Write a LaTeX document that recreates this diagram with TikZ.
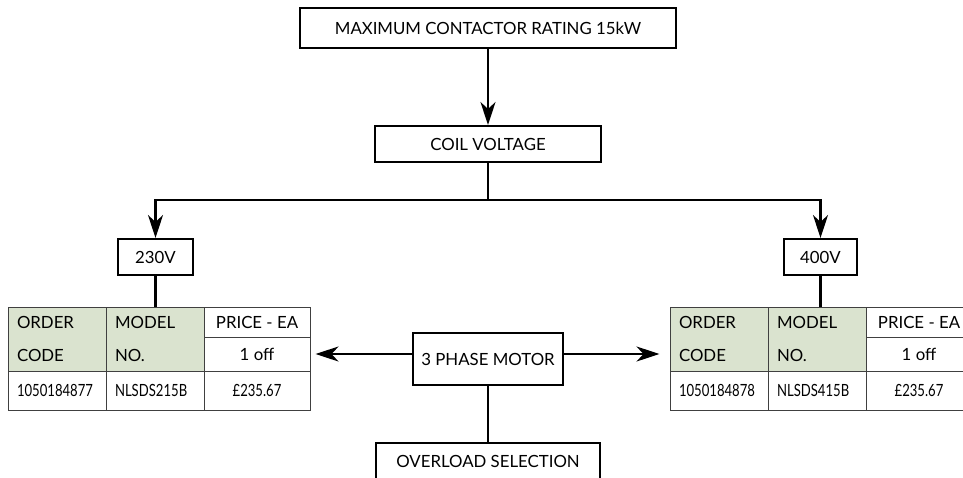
\documentclass[tikz,border=0pt]{standalone}
\usepackage{fontspec}
\setmainfont{Lato}
\usetikzlibrary{arrows.meta}
\tikzset{>={Stealth[length=23pt,width=15pt,inset=7pt]}}
\definecolor{codegreen}{RGB}{218,227,207}

\begin{document}
\begin{tikzpicture}[x=1pt,y=-1pt,
  box/.style={draw,line width=2pt,minimum height=36pt,inner sep=0pt,
    font=\fontsize{16.8}{18}\selectfont},
  cell/.style={draw=black!75,line width=1pt,inner sep=0pt,minimum width=98pt,
    font=\fontsize{16.8}{33}\selectfont},
  link/.style={line width=2.2pt}]
\useasboundingbox (0,0) rectangle (963,477);

\node[box,minimum width=376pt,minimum height=40pt] (rating) at (488,28) {MAXIMUM CONTACTOR RATING 15kW};
\node[box,minimum width=226pt] (coil) at (488,144) {COIL VOLTAGE};
\node[box,minimum width=75pt] (lowv) at (155.5,257) {230V};
\node[box,minimum width=73pt] (highv) at (820.5,257) {400V};
\node[box,minimum width=150pt,minimum height=52pt] (motor) at (488,359) {3 PHASE MOTOR};
\node[box,minimum width=224pt] (overload) at (488,461) {OVERLOAD SELECTION};

% the two order tables
\foreach \t/\x/\code/\model in {L/8/1050184877/NLSDS215B, R/670/1050184878/NLSDS415B}{
  \node[cell,fill=codegreen,minimum height=64pt,text width=80pt,align=left] (order\t) at (\x+49,339) {ORDER\\CODE};
  \node[cell,fill=codegreen,minimum height=64pt,text width=80pt,align=left] (model\t) at (\x+147,339) {MODEL\\NO.};
  \node[cell,minimum width=106pt,minimum height=30pt] (price\t) at (\x+249,322) {PRICE - EA};
  \node[cell,minimum width=106pt,minimum height=34pt] (off\t) at (\x+249,354) {1 off};
  \node[cell,minimum height=39pt,text width=80pt,align=left] (code\t) at (\x+49,390.5) {\scalebox{0.78}[1]{\code}};
  \node[cell,minimum height=39pt,text width=80pt,align=left] (num\t) at (\x+147,390.5) {\scalebox{0.78}[1]{\model}};
  \node[cell,minimum width=106pt,minimum height=39pt] (cost\t) at (\x+249,390.5) {\scalebox{0.78}[1]{£235.67}};
}

\coordinate (split) at (488,200);
\draw[->,link] (rating) -- (coil);
\draw[->,link] (coil) -- (split) -| (lowv);
\draw[->,link] (split) -| (highv);
\draw[link] (lowv.south) -- (lowv.south |- modelL.north);
\draw[link] (highv.south) -- (highv.south |- modelR.north);
\draw[->,link] (motor.west |- offL) -- ([xshift=5pt]offL.east);
\draw[->,link] (motor.east |- offL) -- ([xshift=-10pt]orderR.west |- offL);
\draw[link] (motor) -- (overload);
\end{tikzpicture}
\end{document}
